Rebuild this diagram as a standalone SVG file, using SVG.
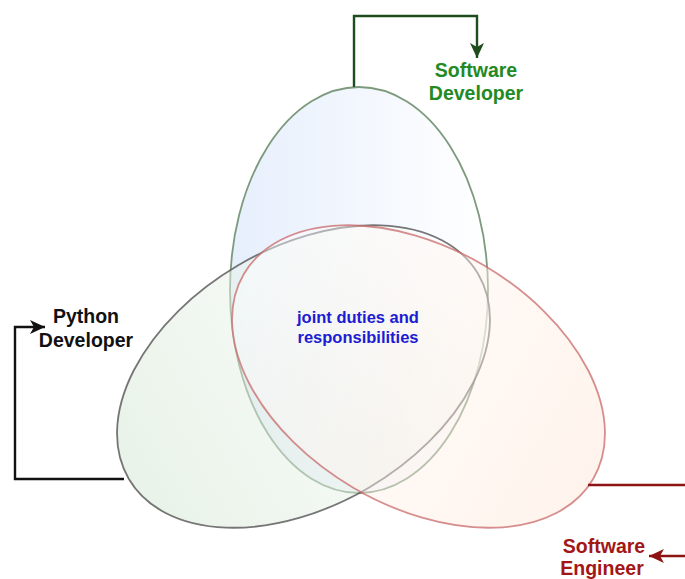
<svg xmlns="http://www.w3.org/2000/svg" width="685" height="579" viewBox="0 0 685 579">
  <style>
    .label { font-family: "Liberation Sans", Arial, Helvetica, sans-serif; font-weight: bold; text-anchor: middle; }
    .role { font-size: 19.5px; }
    .shared { font-size: 16.5px; fill: #1c1cd2; }
    .set { stroke-width: 1.8; }
    .link { fill: none; stroke-width: 2.4; }
  </style>
  <defs>
    <linearGradient id="gradBlue" x1="0" y1="0" x2="1" y2="0">
      <stop offset="0" stop-color="#d6e4fb"/>
      <stop offset="1" stop-color="#ffffff"/>
    </linearGradient>
    <linearGradient id="gradGreen" x1="0" y1="0" x2="1" y2="0">
      <stop offset="0" stop-color="#d3e6d2"/>
      <stop offset="1" stop-color="#ffffff"/>
    </linearGradient>
    <linearGradient id="gradPeach" x1="0" y1="0" x2="1" y2="0">
      <stop offset="0" stop-color="#ffffff"/>
      <stop offset="1" stop-color="#ffe6d6"/>
    </linearGradient>
    <marker id="arrowGreen" markerUnits="userSpaceOnUse" markerWidth="16" markerHeight="14" refX="15" refY="7" orient="auto">
      <path d="M0,0 L15,7 L0,14 L4,7 Z" fill="#1d4d1d"/>
    </marker>
    <marker id="arrowBlack" markerUnits="userSpaceOnUse" markerWidth="16" markerHeight="14" refX="15" refY="7" orient="auto">
      <path d="M0,0 L15,7 L0,14 L4,7 Z" fill="#111111"/>
    </marker>
    <marker id="arrowRed" markerUnits="userSpaceOnUse" markerWidth="16" markerHeight="14" refX="15" refY="7" orient="auto">
      <path d="M0,0 L15,7 L0,14 L4,7 Z" fill="#8e1414"/>
    </marker>
  </defs>

  <rect width="685" height="579" fill="#ffffff"/>

  <!-- overlapping role sets -->
  <g id="software-developer">
    <ellipse cx="359" cy="290" rx="129" ry="203" fill="url(#gradBlue)" fill-opacity="0.6" stroke="#6f8f6f" stroke-opacity="0.9" class="set"/>
  </g>
  <g id="python-developer">
    <ellipse cx="0" cy="0" rx="202.5" ry="129" transform="translate(303.5 376.5) rotate(-30.4)" fill="url(#gradGreen)" fill-opacity="0.5" stroke="#5e5e5e" stroke-opacity="0.85" class="set"/>
  </g>
  <g id="software-engineer">
    <ellipse cx="0" cy="0" rx="202.5" ry="129" transform="translate(418.5 376.5) rotate(30.4)" fill="url(#gradPeach)" fill-opacity="0.45" stroke="#c86a6a" stroke-opacity="0.75" class="set"/>
  </g>

  <!-- connectors from each set to its title -->
  <g id="connectors">
    <path class="link" d="M354,87 V16 H477 V58" stroke="#1d4d1d" marker-end="url(#arrowGreen)"/>
    <path class="link" d="M124,479 H15 V327 H45" stroke="#111111" marker-end="url(#arrowBlack)"/>
    <path class="link" d="M588,485 H700 V556 H649" stroke="#8e1414" marker-end="url(#arrowRed)"/>
  </g>

  <!-- titles -->
  <g id="label-software-developer">
    <text class="label role" fill="#238a23" x="476" y="77">Software</text>
    <text class="label role" fill="#238a23" x="476" y="100">Developer</text>
  </g>
  <g id="label-python-developer">
    <text class="label role" fill="#111111" x="86" y="323">Python</text>
    <text class="label role" fill="#111111" x="86" y="347">Developer</text>
  </g>
  <g id="label-software-engineer">
    <text class="label role" fill="#a31616" x="604" y="553">Software</text>
    <text class="label role" fill="#a31616" x="602" y="575">Engineer</text>
  </g>
  <g id="label-shared">
    <text class="label shared" x="358" y="323">joint duties and</text>
    <text class="label shared" x="358" y="343">responsibilities</text>
  </g>
</svg>
